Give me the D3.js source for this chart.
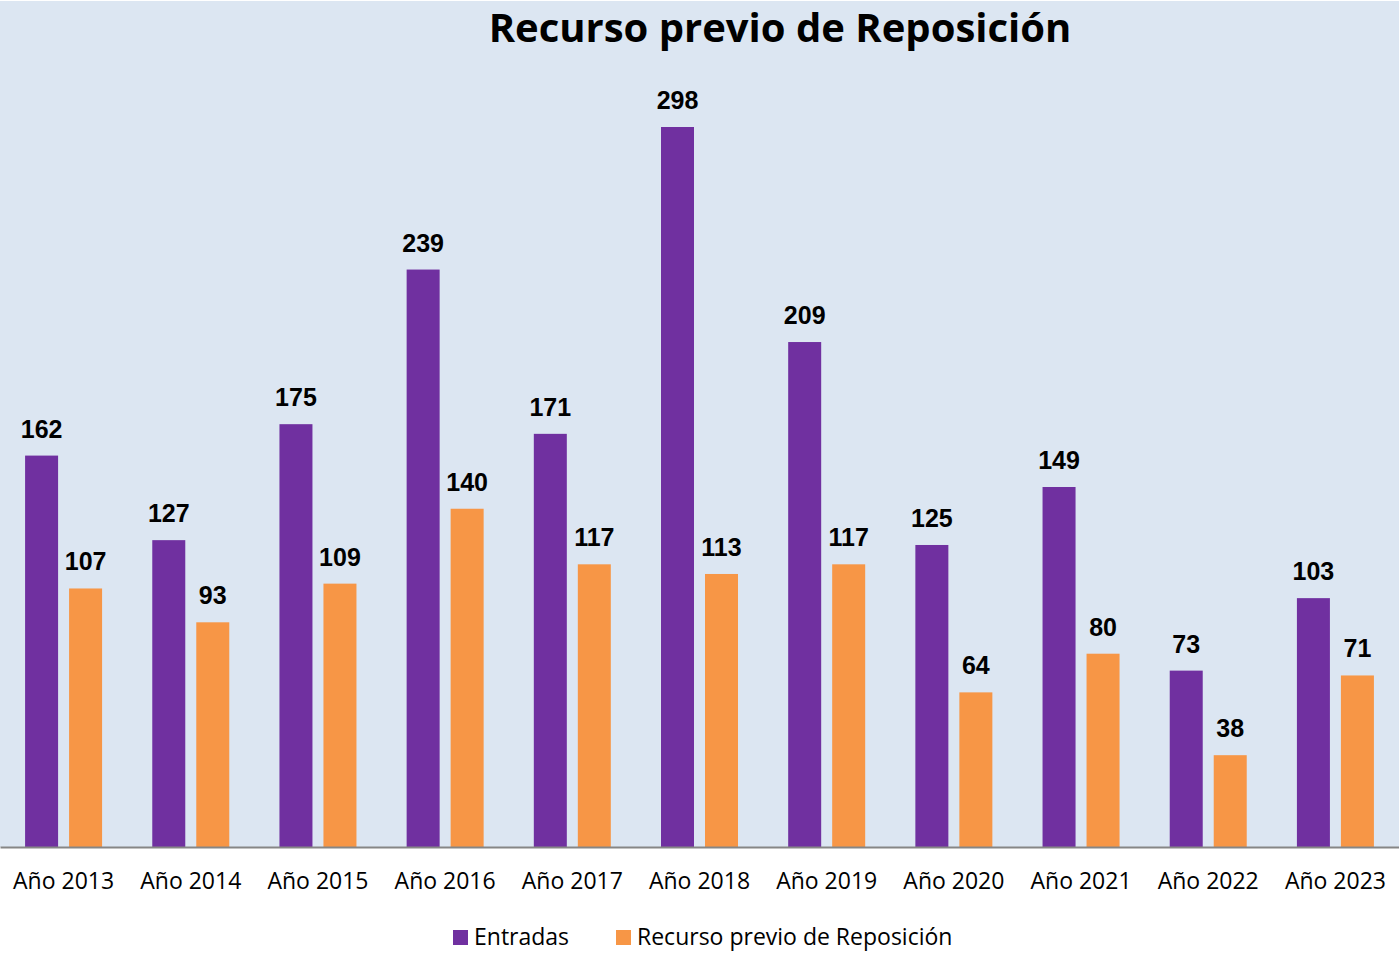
<!DOCTYPE html>
<html>
<head>
<meta charset="utf-8">
<script src="https://cdn.jsdelivr.net/npm/d3@7.9.0/dist/d3.min.js"></script>
<style>
  html, body { margin: 0; padding: 0; background: #fff; }
  svg { display: block; }
</style>
</head>
<body>
<svg id="chart"></svg>
<script>
// data
const years = ['Año 2013', 'Año 2014', 'Año 2015', 'Año 2016', 'Año 2017', 'Año 2018',
               'Año 2019', 'Año 2020', 'Año 2021', 'Año 2022', 'Año 2023'];
const entradas = [162, 127, 175, 239, 171, 298, 209, 125, 149, 73, 103];
const recurso  = [107, 93, 109, 140, 117, 113, 117, 64, 80, 38, 71];
const seriesNames = ['Entradas', 'Recurso previo de Reposición'];

const colorA = '#7030a0';
const colorB = '#f79646';
const font = '"Open Sans", "Noto Sans", sans-serif';

const width = 1399, height = 977;
const baseY = 847;

const svg = d3.select('#chart').attr('width', width).attr('height', height);

// plot background
svg.append('rect')
  .attr('x', 0).attr('y', 1)
  .attr('width', width).attr('height', baseY - 1)
  .attr('fill', '#dce6f2');

const x = d3.scaleBand().domain(years).range([0, width]).padding(0);
const sub = d3.scaleBand().domain([0, 1]).range([-38.5, 38.5]).paddingInner(0.25);

const y = d3.scaleLinear().domain([0, 298]).range([baseY, 127]);

const rows = years.map((yr, i) => ({ yr, vals: [entradas[i], recurso[i]] }));

const groups = svg.append('g').selectAll('g')
  .data(rows)
  .join('g')
  .attr('transform', d => `translate(${x(d.yr) + x.bandwidth() / 2},0)`);

groups.selectAll('rect')
  .data(d => d.vals.map((v, k) => ({ v, k })))
  .join('rect')
  .attr('x', d => sub(d.k))
  .attr('y', d => y(d.v))
  .attr('width', sub.bandwidth())
  .attr('height', d => baseY - y(d.v))
  .attr('fill', d => d.k === 0 ? colorA : colorB);

// value labels
groups.selectAll('text')
  .data(d => d.vals.map((v, k) => ({ v, k })))
  .join('text')
  .attr('x', d => sub(d.k) + sub.bandwidth() / 2)
  .attr('y', d => y(d.v) - 18)
  .attr('text-anchor', 'middle')
  .style('font-family', 'Arial, "Liberation Sans", sans-serif')
  .style('font-weight', 'bold')
  .style('font-size', '25px')
  .attr('fill', '#000')
  .text(d => d.v);

// x axis
const xAxis = svg.append('g')
  .attr('transform', `translate(0,${baseY})`)
  .call(d3.axisBottom(x).tickSize(0).tickPadding(0));
xAxis.select('.domain').attr('stroke', '#868686').attr('stroke-width', 2);
xAxis.selectAll('text')
  .attr('dy', 0)
  .attr('y', 42)
  .style('font-family', font)
  .style('font-size', '23px')
  .attr('fill', '#000');

// title
svg.append('text')
  .attr('x', 780).attr('y', 42)
  .attr('text-anchor', 'middle')
  .style('font-family', font)
  .style('font-weight', 'bold')
  .style('font-size', '40px')
  .attr('fill', '#000')
  .text('Recurso previo de Reposición');

// legend
const legend = svg.append('g');
const legendItems = [
  { name: seriesNames[0], color: colorA, x: 453 },
  { name: seriesNames[1], color: colorB, x: 616 }
];
const li = legend.selectAll('g').data(legendItems).join('g')
  .attr('transform', d => `translate(${d.x},930)`);
li.append('rect').attr('width', 15).attr('height', 15).attr('fill', d => d.color);
li.append('text')
  .attr('x', 21).attr('y', 15)
  .style('font-family', font)
  .style('font-size', '23px')
  .attr('fill', '#000')
  .text(d => d.name);
</script>
</body>
</html>
